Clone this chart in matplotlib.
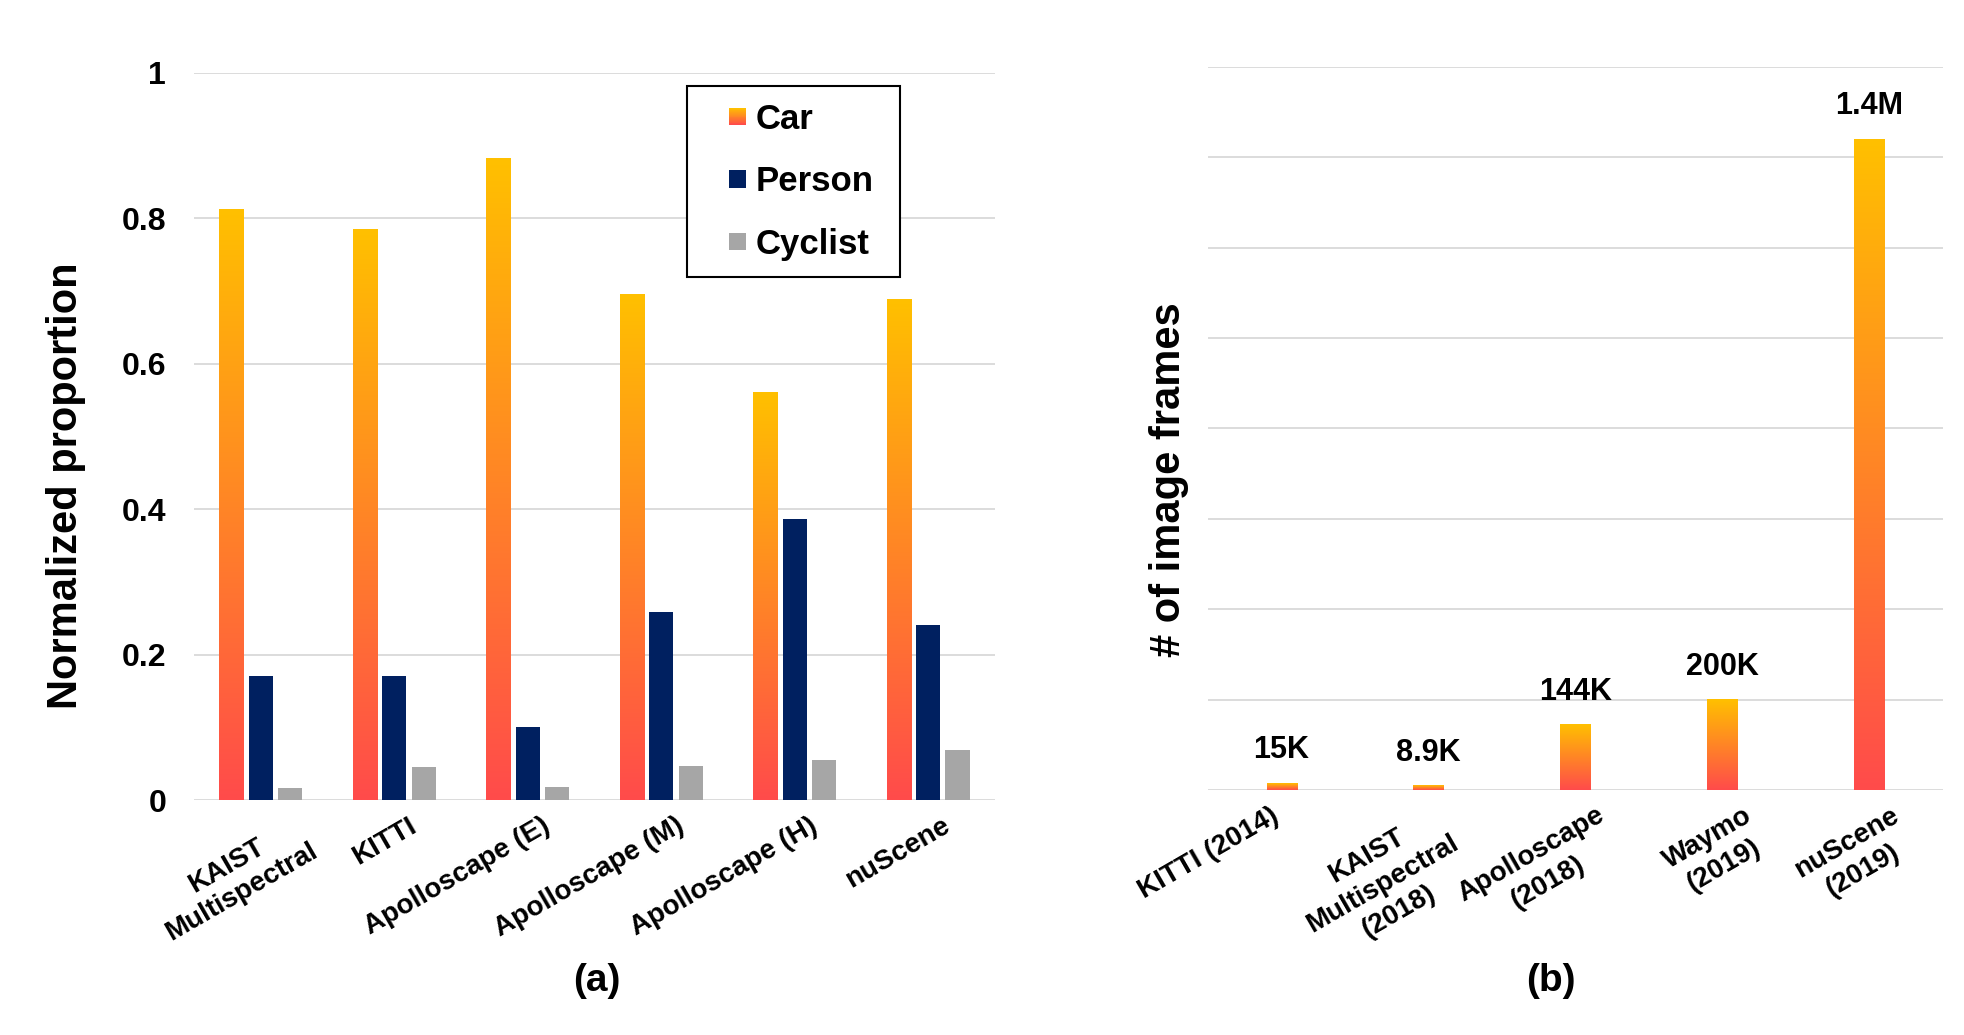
import numpy as np
import matplotlib
matplotlib.use("Agg")
import matplotlib.pyplot as plt
from matplotlib.colors import LinearSegmentedColormap
from matplotlib.legend_handler import HandlerBase
from matplotlib.patches import Rectangle

plt.rcParams['font.family'] = ['Liberation Sans', 'DejaVu Sans']
plt.rcParams['font.weight'] = 'bold'

# (a) class proportions per dataset
datasets_a = ['KAIST\nMultispectral', 'KITTI', 'Apolloscape (E)', 'Apolloscape (M)',
              'Apolloscape (H)', 'nuScene']
car = [0.812, 0.784, 0.882, 0.695, 0.560, 0.689]
person = [0.171, 0.171, 0.100, 0.258, 0.386, 0.241]
cyclist = [0.017, 0.045, 0.018, 0.047, 0.055, 0.069]
yticks_a = [0, 0.2, 0.4, 0.6, 0.8, 1]
ytick_labels_a = ['0', '0.2', '0.4', '0.6', '0.8', '1']

# (b) number of image frames
datasets_b = ['KITTI (2014)', 'KAIST\nMultispectral\n(2018)', 'Apolloscape\n(2018)',
              'Waymo\n(2019)', 'nuScene\n(2019)']
frames = [15000, 8900, 144000, 200000, 1440000]
frame_labels = ['15K', '8.9K', '144K', '200K', '1.4M']

car_cmap = LinearSegmentedColormap.from_list('car', ['#FF4B4B', '#FFC000'])
person_color = '#002060'
cyclist_color = '#A6A6A6'
grid_color = '#D9D9D9'


def gradient_bars(ax, bars):
    # paint each bar with its own red->yellow gradient
    grad = np.linspace(0, 1, 256).reshape(-1, 1)
    for b in bars:
        x0 = b.get_x()
        w = b.get_width()
        h = b.get_height()
        ax.imshow(grad, extent=[x0, x0 + w, 0, h], origin='lower', aspect='auto',
                  cmap=car_cmap, zorder=3, interpolation='bilinear')


class SquareHandler(HandlerBase):
    # small square at the right end of the handle box, gradient if no color given
    def __init__(self, color=None):
        super().__init__()
        self.color = color

    def create_artists(self, legend, orig_handle, xdescent, ydescent, width, height,
                       fontsize, trans):
        sq = 0.5 * fontsize
        x0 = -xdescent + width - sq
        y0 = -ydescent + (height - sq) / 2
        if self.color is not None:
            return [Rectangle((x0, y0), sq, sq, facecolor=self.color, edgecolor='none',
                              transform=trans)]
        n = 20
        arts = []
        for i in range(n):
            arts.append(Rectangle((x0, y0 + sq * i / n), sq, sq / n * 1.1,
                                  facecolor=car_cmap(i / (n - 1)), edgecolor='none',
                                  transform=trans))
        return arts


def style_axes(ax):
    for s in ax.spines.values():
        s.set_visible(False)
    ax.yaxis.grid(True, color=grid_color, linewidth=1.3)
    ax.set_axisbelow(True)
    ax.tick_params(axis='both', length=0)


def rotated_labels(ax, labels, linespacing, shifts):
    # shifts: extra x offset (points) by number of lines in the label
    ax.set_xticklabels([])
    for i, lab in enumerate(labels):
        nlines = lab.count('\n') + 1
        ax.annotate(lab, xy=(i, 0), xycoords=('data', 'axes fraction'),
                    xytext=(shifts[nlines], -9), textcoords='offset points',
                    rotation=30, ha='right', va='top', rotation_mode='anchor',
                    multialignment='center', linespacing=linespacing,
                    fontsize=20, fontweight='bold', annotation_clip=False)


fig = plt.figure(figsize=(19.65, 10.35), dpi=100)

# ---------- (a) ----------
ax1 = fig.add_axes([0.0987, 0.227, 0.4076, 0.7025])
x = np.arange(len(datasets_a))
w = 0.18
car_bars = ax1.bar(x - 0.22, car, w, color='none', zorder=3)
gradient_bars(ax1, car_bars)
ax1.bar(x, person, w, color=person_color, zorder=3)
ax1.bar(x + 0.22, cyclist, w, color=cyclist_color, zorder=3)

style_axes(ax1)
ax1.set_xlim(-0.5, len(datasets_a) - 0.5)
ax1.set_ylim(0, 1)
ax1.set_yticks(yticks_a)
ax1.set_yticklabels(ytick_labels_a, fontsize=23, fontweight='bold')
ax1.tick_params(axis='y', pad=20)
ax1.set_xticks(x)
rotated_labels(ax1, datasets_a, 1.2, {1: 10, 2: 24})

handles = [Rectangle((0, 0), 1, 1), Rectangle((0, 0), 1, 1), Rectangle((0, 0), 1, 1)]
leg = ax1.legend(handles, ['Car', 'Person', 'Cyclist'],
                 handler_map={handles[0]: SquareHandler(),
                              handles[1]: SquareHandler(person_color),
                              handles[2]: SquareHandler(cyclist_color)},
                 loc='upper left', mode='expand',
                 bbox_to_anchor=(687 / 1965, 1 - 274 / 1035, 213 / 1965, 188 / 1035),
                 bbox_transform=fig.transFigure, prop={'weight': 'bold', 'size': 25},
                 handlelength=1.22, handleheight=0.7, handletextpad=0.28,
                 labelspacing=0.85, borderpad=0.48, borderaxespad=0,
                 fancybox=False, framealpha=1, edgecolor='black')
leg.get_frame().set_linewidth(1.5)
leg.get_frame().set_facecolor('white')

fig.text(66 / 1965, 1 - 486 / 1035, 'Normalized proportion', rotation=90,
         ha='center', va='center', fontsize=30, fontweight='bold')
fig.text(597 / 1965, 1 - 981 / 1035, '(a)', ha='center', va='center',
         fontsize=28, fontweight='bold')

# ---------- (b) ----------
ax2 = fig.add_axes([0.6148, 0.2367, 0.374, 0.6986])
x2 = np.arange(len(datasets_b))
frame_bars = ax2.bar(x2, frames, 0.205, color='none', zorder=3)
gradient_bars(ax2, frame_bars)
for b, lab in zip(frame_bars, frame_labels):
    ax2.annotate(lab, (b.get_x() + b.get_width() / 2, b.get_height()),
                 xytext=(0, 13), textcoords='offset points', ha='center', va='bottom',
                 fontsize=22, fontweight='bold')

style_axes(ax2)
ax2.set_xlim(-0.5, len(datasets_b) - 0.5)
ax2.set_ylim(0, 1600000)
ax2.set_yticks(np.arange(0, 1600001, 200000))
ax2.set_yticklabels([])
ax2.set_xticks(x2)
rotated_labels(ax2, datasets_b, 1.3, {1: -8, 2: 15, 3: 4})

fig.text(1169 / 1965, 1 - 480 / 1035, '# of image frames', rotation=90,
         ha='center', va='center', fontsize=30, fontweight='bold')
fig.text(1551 / 1965, 1 - 981 / 1035, '(b)', ha='center', va='center',
         fontsize=28, fontweight='bold')

fig.savefig('out.png', dpi=100)
